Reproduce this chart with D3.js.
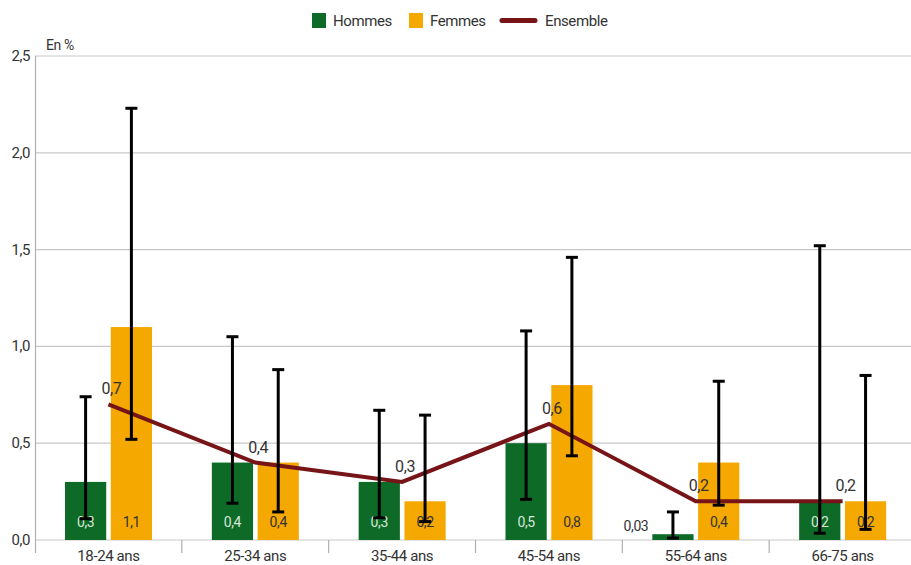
<!DOCTYPE html>
<html><head><meta charset="utf-8">
<script src="https://cdn.jsdelivr.net/npm/d3@7/dist/d3.min.js"></script>
<style>
body{margin:0;background:#fff;}
text{font-family:"Roboto",sans-serif;letter-spacing:-0.4px;}
</style></head>
<body><svg id="c" width="911" height="565"></svg>
<script>
const categories = ["18-24 ans","25-34 ans","35-44 ans","45-54 ans","55-64 ans","66-75 ans"];
const hommes = [0.3,0.4,0.3,0.5,0.03,0.2];
const femmes = [1.1,0.4,0.2,0.8,0.4,0.2];
const ensemble = [0.7,0.4,0.3,0.6,0.2,0.2];
const hommesLow = [0.11,0.19,0.115,0.21,0.01,0.035];
const hommesHigh = [0.74,1.05,0.67,1.08,0.145,1.52];
const femmesLow = [0.52,0.145,0.095,0.435,0.18,0.055];
const femmesHigh = [2.23,0.88,0.645,1.46,0.82,0.85];
const hommesLabels = ["0,3","0,4","0,3","0,5","0,03","0,2"];
const femmesLabels = ["1,1","0,4","0,2","0,8","0,4","0,2"];
const ensembleLabels = ["0,7","0,4","0,3","0,6","0,2","0,2"];
const yTicks = [0,0.5,1,1.5,2,2.5];

const GREEN="#0d6a27", ORANGE="#f5a800", LINE="#761417";
const svg = d3.select("#c");
const x = d3.scaleBand().domain(categories).range([35,916]);
const y = d3.scaleLinear().domain([0,2.5]).range([540,56]);
const inner = d3.scaleBand().domain(["H","F"]).range([30,117]).paddingInner(0.1);

// gridlines
svg.append("g").selectAll("line").data(yTicks).join("line")
  .attr("x1",35).attr("x2",911).attr("y1",d=>y(d)).attr("y2",d=>y(d))
  .attr("stroke","#c8c8c8").attr("stroke-width",1.2);
// y axis line
svg.append("line").attr("x1",35.5).attr("x2",35.5).attr("y1",56).attr("y2",553).attr("stroke","#b0b0b0").attr("stroke-width",1.2);
// y labels
svg.append("g").selectAll("text").data(yTicks).join("text")
  .attr("x",30).attr("y",d=>y(d)+5).attr("text-anchor","end")
  .attr("font-size",15).attr("fill","#333").text(d=>d3.format(".1f")(d).replace(".",","));
svg.append("text").attr("x",46).attr("y",50).attr("font-size",14).attr("fill","#333").text("En %");
// category ticks
svg.append("g").selectAll("line").data(categories.slice(1)).join("line")
  .attr("x1",d=>x(d)).attr("x2",d=>x(d)).attr("y1",540).attr("y2",553)
  .attr("stroke","#b0b0b0").attr("stroke-width",1.2);
svg.append("g").selectAll("text").data(categories).join("text")
  .attr("x",d=>x(d)+x.bandwidth()/2).attr("y",561).attr("text-anchor","middle")
  .attr("font-size",15).attr("fill","#333").text(d=>d);

// bars
const g = svg.append("g");
categories.forEach((c,i)=>{
  const xh = x(c)+inner("H"), xf = x(c)+inner("F"), w = inner.bandwidth();
  g.append("rect").attr("x",xh).attr("y",y(hommes[i])).attr("width",w).attr("height",y(0)-y(hommes[i])).attr("fill",GREEN);
  g.append("rect").attr("x",xf).attr("y",y(femmes[i])).attr("width",w).attr("height",y(0)-y(femmes[i])).attr("fill",ORANGE);
});

// line
svg.append("path").datum(ensemble)
  .attr("d",d3.line().x((d,i)=>x(categories[i])+x.bandwidth()/2).y(d=>y(d)))
  .attr("fill","none").attr("stroke",LINE).attr("stroke-width",4);

// bar labels
categories.forEach((c,i)=>{
  const xh = x(c)+inner("H"), xf = x(c)+inner("F"), w = inner.bandwidth();
  const small = hommes[i] < 0.1;
  svg.append("text").attr("x",small? xh-4 : xh+w/2).attr("y",small?531:527)
    .attr("text-anchor",small?"end":"middle").attr("font-size",14)
    .attr("fill",small?"#333":"#d8e6d8").text(hommesLabels[i]);
  svg.append("text").attr("x",xf+w/2).attr("y",527).attr("text-anchor","middle").attr("font-size",14)
    .attr("fill","#333").text(femmesLabels[i]);
});

// error bars
const eb = svg.append("g").attr("stroke","#000").attr("stroke-width",3);
function err(cx,lo,hi){
  eb.append("line").attr("x1",cx).attr("x2",cx).attr("y1",y(lo)).attr("y2",y(hi));
  eb.append("line").attr("x1",cx-6).attr("x2",cx+6).attr("y1",y(lo)).attr("y2",y(lo));
  eb.append("line").attr("x1",cx-6).attr("x2",cx+6).attr("y1",y(hi)).attr("y2",y(hi));
}
categories.forEach((c,i)=>{
  const w = inner.bandwidth();
  err(x(c)+inner("H")+w/2, hommesLow[i], hommesHigh[i]);
  err(x(c)+inner("F")+w/2, femmesLow[i], femmesHigh[i]);
});

// ensemble labels
svg.append("g").selectAll("text").data(ensemble).join("text")
  .attr("x",(d,i)=>x(categories[i])+x.bandwidth()/2+3).attr("y",d=>y(d)-10)
  .attr("text-anchor","middle").attr("font-size",16).attr("fill","#333")
  .text((d,i)=>ensembleLabels[i]);

// legend
const lg = svg.append("g");
lg.append("rect").attr("x",312).attr("y",13).attr("width",14).attr("height",15).attr("fill",GREEN);
lg.append("text").attr("x",333).attr("y",26).attr("font-size",15).attr("fill","#333").text("Hommes");
lg.append("rect").attr("x",409).attr("y",13).attr("width",14).attr("height",15).attr("fill",ORANGE);
lg.append("text").attr("x",430).attr("y",26).attr("font-size",15).attr("fill","#333").text("Femmes");
lg.append("line").attr("x1",502).attr("x2",535).attr("y1",20.5).attr("y2",20.5).attr("stroke",LINE).attr("stroke-width",5).attr("stroke-linecap","round");
lg.append("text").attr("x",545).attr("y",26).attr("font-size",15).attr("fill","#333").text("Ensemble");
</script></body></html>
